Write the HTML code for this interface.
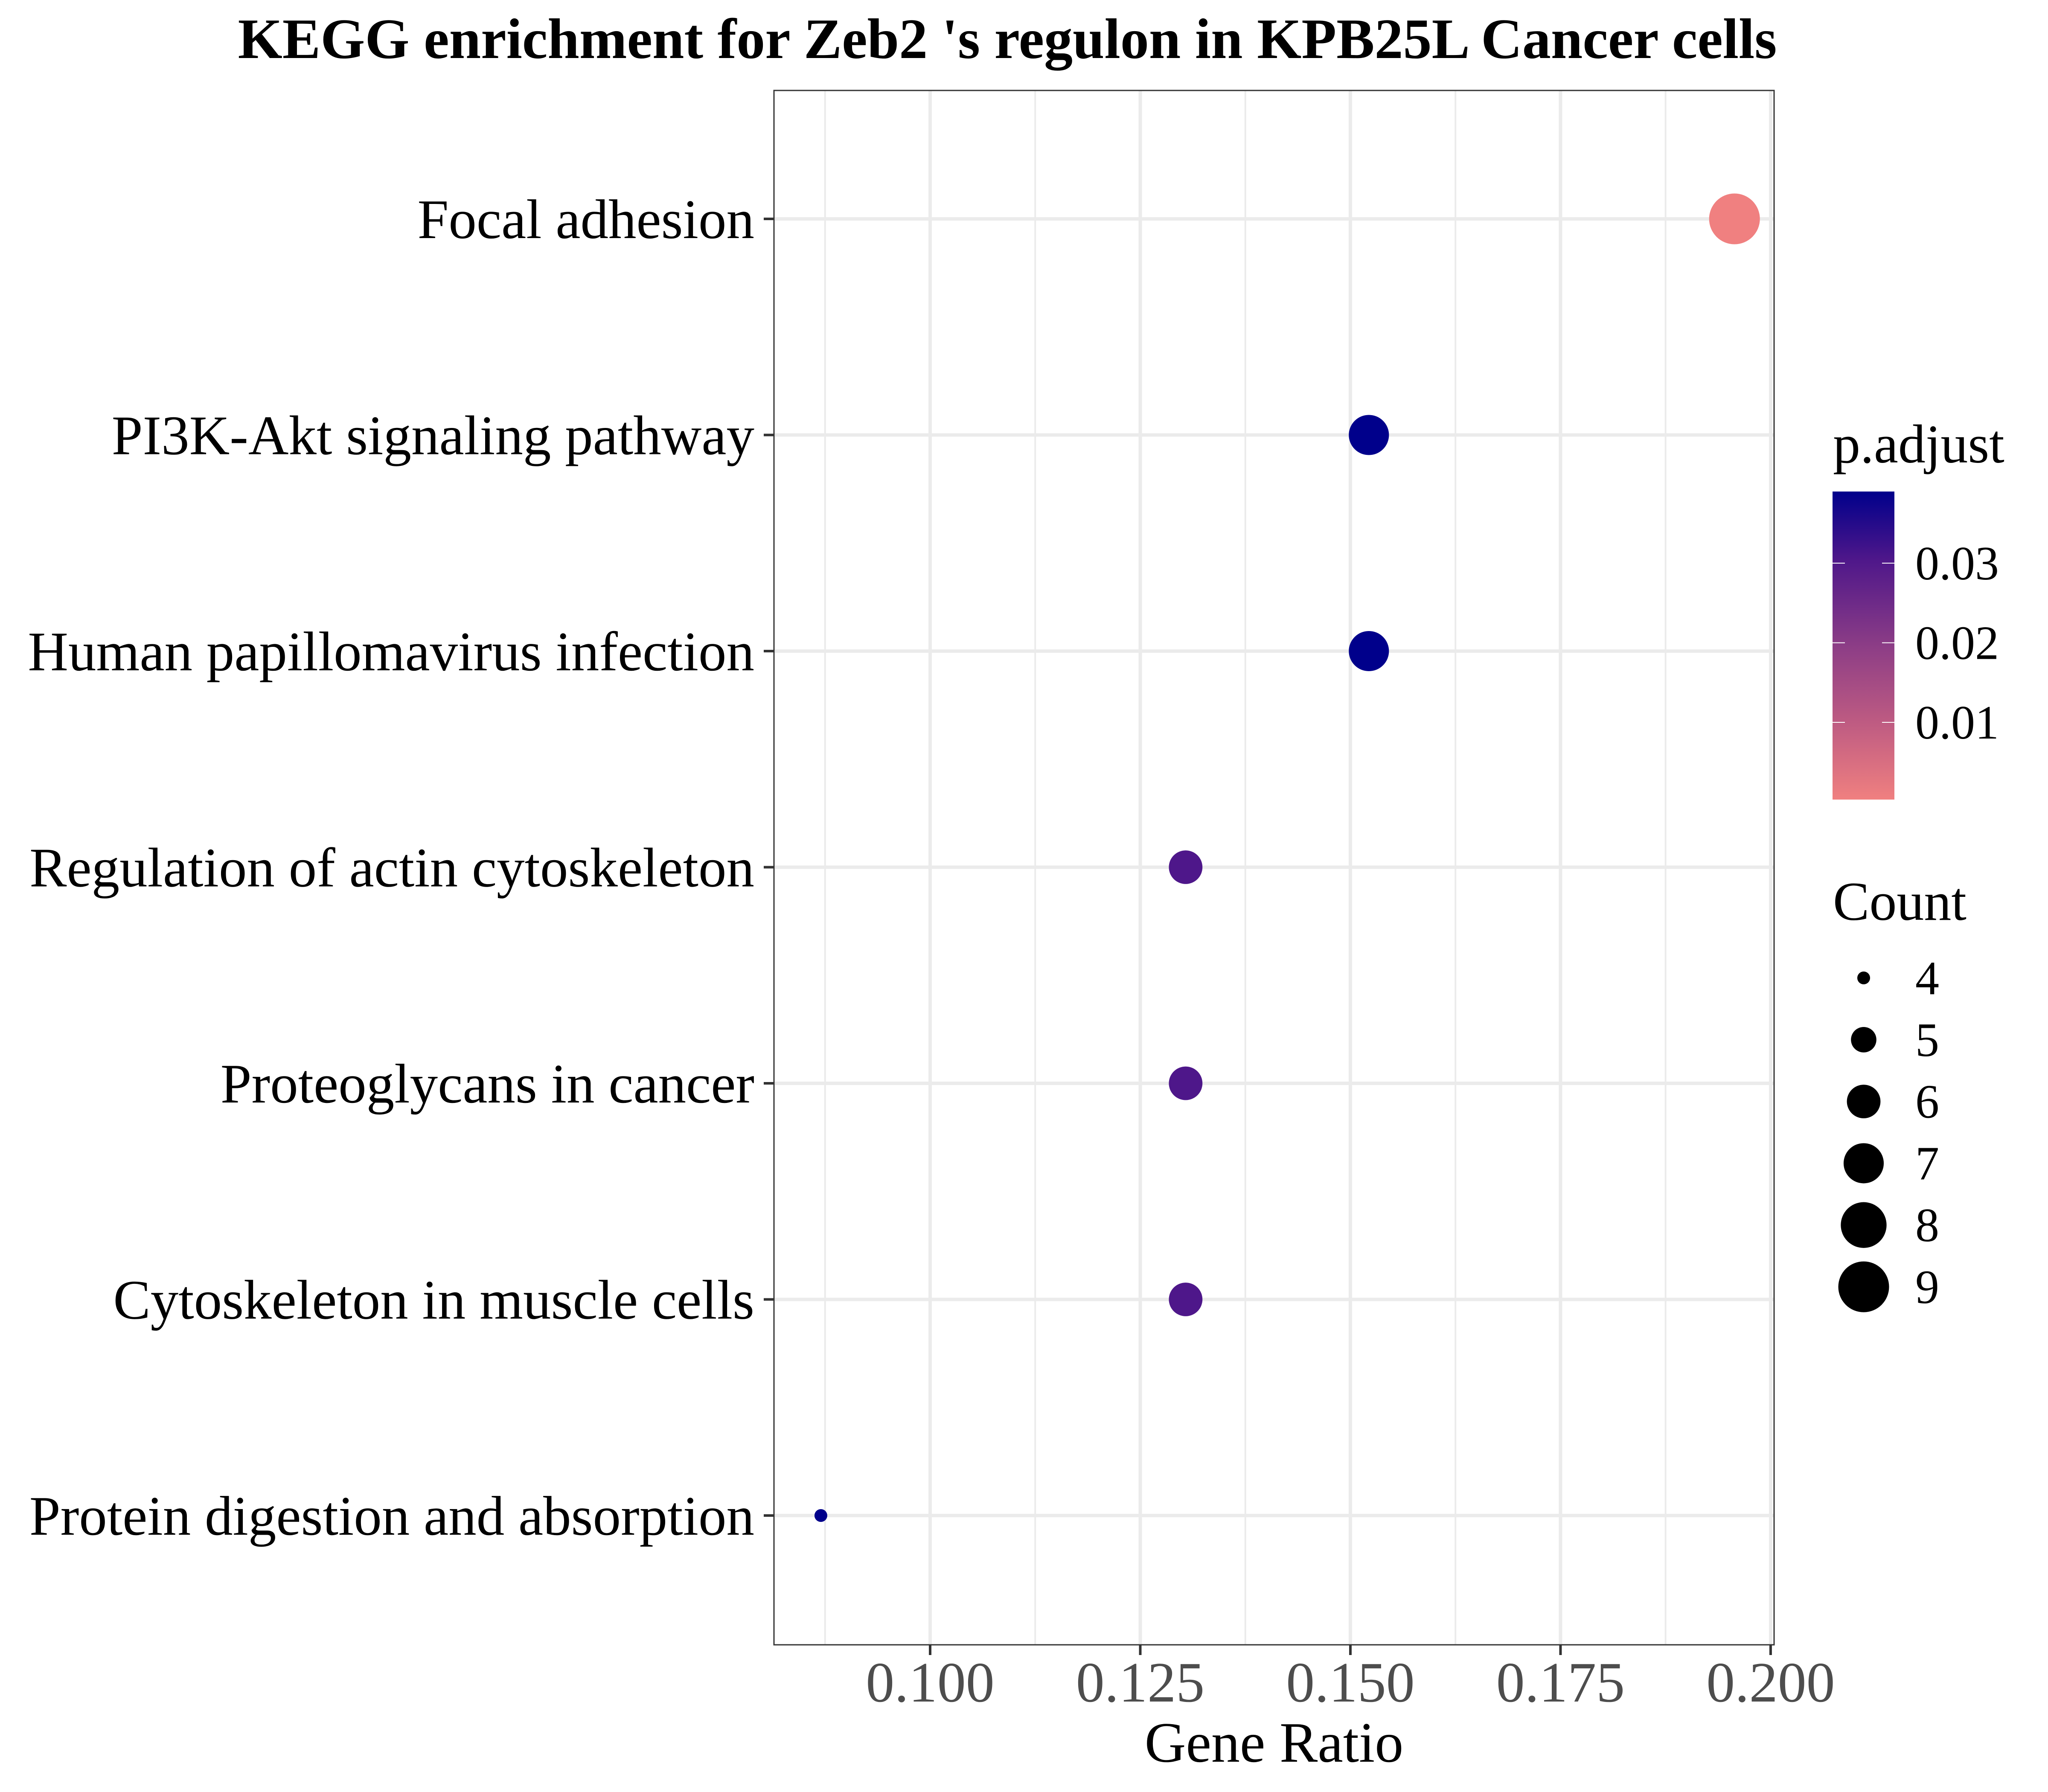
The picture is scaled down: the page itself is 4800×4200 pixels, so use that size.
<!DOCTYPE html>
<html><head><meta charset="utf-8"><style>
html,body{margin:0;padding:0;background:#fff;}
svg{display:block;}
text{font-family:"Liberation Serif",serif;}
</style></head><body>
<svg id="chart" width="4800" height="4200" viewBox="0 0 4800 4200" xmlns="http://www.w3.org/2000/svg">
<rect width="4800" height="4200" fill="#fff"/>
<text x="2361" y="136" text-anchor="middle" font-size="134" font-weight="bold" fill="#000">KEGG enrichment for Zeb2 's regulon in KPB25L Cancer cells</text>
<g id="plot"></g>
<text x="2986" y="4129" text-anchor="middle" font-size="134" fill="#000">Gene Ratio</text>
<defs>
<linearGradient id="cbar" x1="0" y1="1" x2="0" y2="0">
<stop offset="0" stop-color="#F08080"/><stop offset="0.25" stop-color="#BE5B82"/><stop offset="0.5" stop-color="#8C3D86"/><stop offset="0.78" stop-color="#4E178A"/><stop offset="1" stop-color="#00008B"/>
</linearGradient>
</defs>
<g id="legend"></g>
</svg>
<script>
const categories = ["Focal adhesion","PI3K-Akt signaling pathway","Human papillomavirus infection","Regulation of actin cytoskeleton","Proteoglycans in cancer","Cytoskeleton in muscle cells","Protein digestion and absorption"];
const geneRatio = [0.1957, 0.1522, 0.1522, 0.1304, 0.1304, 0.1304, 0.0870];
const counts = [9, 7, 7, 6, 6, 6, 4];
const pAdjust = [0.0003, 0.039, 0.039, 0.0305, 0.0305, 0.0305, 0.039];
const xTicks = [0.100, 0.125, 0.150, 0.175, 0.200];
const xTickLabels = ["0.100","0.125","0.150","0.175","0.200"];
const xMinor = [0.0875, 0.1125, 0.1375, 0.1625, 0.1875];
const cbarTicks = [0.01, 0.02, 0.03];
const cbarTickLabels = ["0.01","0.02","0.03"];
const sizeBreaks = [4,5,6,7,8,9];

const NS = "http://www.w3.org/2000/svg";
const PL = 1814, PR = 4158, PT = 212, PB = 3855;
const xMin = 0.08142, xMax = 0.20041;
const X = v => PL + (v - xMin) / (xMax - xMin) * (PR - PL);
const Y = i => 513 + i * (3552 - 513) / (categories.length - 1);
const cMin = 0.0003, cMax = 0.039;
const sMin = 4, sMax = 9;
const D = c => Math.sqrt(30*30 + (c - sMin) / (sMax - sMin) * (119*119 - 30*30));
const stops = [[0,[240,128,128]],[0.25,[190,91,130]],[0.5,[140,61,134]],[0.78,[78,23,138]],[1,[0,0,139]]];
function colorFor(p){
  let t = Math.max(0, Math.min(1, (p - cMin) / (cMax - cMin)));
  for (let k = 0; k < stops.length - 1; k++) {
    const [a, ca] = stops[k], [b, cb] = stops[k+1];
    if (t <= b) { const f = (t - a) / (b - a); return "rgb(" + ca.map((v,j)=>Math.round(v + (cb[j]-v)*f)).join(",") + ")"; }
  }
  return "rgb(0,0,139)";
}
function mk(tag, attrs, parent){ const e = document.createElementNS(NS, tag); for (const k in attrs) e.setAttribute(k, attrs[k]); parent.appendChild(e); return e; }

const plot = document.getElementById("plot");
mk("rect", {x:PL, y:PT, width:PR-PL, height:PB-PT, fill:"#fff"}, plot);
xMinor.forEach(v => {
  const l = mk("line", {x1:X(v), x2:X(v), y1:PT, y2:PB, stroke:"#EBEBEB", "stroke-width":4}, plot);
  
  
});
xTicks.forEach(v => {
  const l = mk("line", {x1:X(v), x2:X(v), y1:PT, y2:PB, stroke:"#EBEBEB", "stroke-width":8}, plot);
  
  
});
categories.forEach((c, i) => {
  const l = mk("line", {x1:PL, x2:PR, y1:Y(i), y2:Y(i), stroke:"#EBEBEB", "stroke-width":8}, plot);
  
  
});
categories.forEach((c, i) => {
  const pt = mk("circle", {cx:X(geneRatio[i]), cy:Y(i), r:D(counts[i])/2, fill:colorFor(pAdjust[i])}, plot);
  
  
});
const border = mk("rect", {x:PL, y:PT, width:PR-PL, height:PB-PT, fill:"none", stroke:"#333333", "stroke-width":3}, plot);


categories.forEach((c, i) => {
  const t = mk("line", {x1:PL-24, x2:PL, y1:Y(i), y2:Y(i), stroke:"#333333", "stroke-width":6}, plot);
  
  
  const lb = mk("text", {x:PL-46, y:Y(i)+45, "text-anchor":"end", "font-size":131, fill:"#000"}, plot);
  lb.textContent = c;
  
  
});
xTicks.forEach((v, i) => {
  const t = mk("line", {x1:X(v), x2:X(v), y1:PB, y2:PB+24, stroke:"#333333", "stroke-width":6}, plot);
  
  
  const lb = mk("text", {x:X(v), y:3988, "text-anchor":"middle", "font-size":134, fill:"#4D4D4D"}, plot);
  lb.textContent = xTickLabels[i];
  
  
});

const lg = document.getElementById("legend");
const CT = 1152, CB = 1874, CL = 4295, CR = 4440;
const CY = v => CB - (v - cMin) / (cMax - cMin) * (CB - CT);
const t1 = mk("text", {x:4296, y:1084, "font-size":128, fill:"#000"}, lg);
t1.textContent = "p.adjust";


const bar = mk("rect", {x:CL, y:CT, width:CR-CL, height:CB-CT, fill:"url(#cbar)"}, lg);


cbarTicks.forEach((v, i) => {
  mk("line", {x1:CL, x2:CL+29, y1:CY(v), y2:CY(v), stroke:"#fff", "stroke-width":2}, lg);
  mk("line", {x1:CR-29, x2:CR, y1:CY(v), y2:CY(v), stroke:"#fff", "stroke-width":2}, lg);
  const lb = mk("text", {x:4489, y:CY(v)+38, "font-size":112, fill:"#000"}, lg);
  lb.textContent = cbarTickLabels[i];
  
  
});
const t2 = mk("text", {x:4296, y:2156, "font-size":128, fill:"#000"}, lg);
t2.textContent = "Count";


sizeBreaks.forEach((s, i) => {
  const cy = 2292 + i * 144.8;
  const c = mk("circle", {cx:4368, cy:cy, r:D(s)/2, fill:"#000"}, lg);
  
  
  const lb = mk("text", {x:4489, y:cy+38, "font-size":112, fill:"#000"}, lg);
  lb.textContent = String(s);
  
  
});
</script>
</body></html>
